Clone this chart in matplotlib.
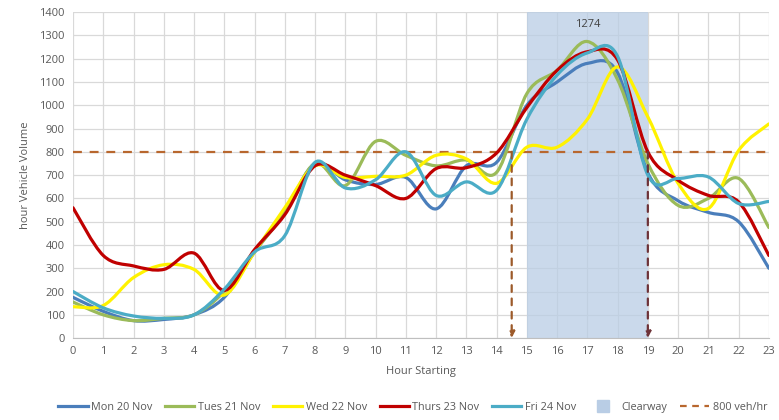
import numpy as np
import matplotlib
matplotlib.use("Agg")
import matplotlib.pyplot as plt
from matplotlib.path import Path
from matplotlib.patches import PathPatch
from matplotlib.lines import Line2D

hours = np.arange(0, 24)
mon = [175, 115, 75, 80, 100, 175, 370, 540, 750, 680, 660, 690, 555, 740, 755,
       1000, 1100, 1180, 1140, 710, 590, 540, 500, 300]
tue = [155, 100, 75, 85, 100, 200, 370, 540, 750, 655, 845, 785, 740, 765, 712,
       1050, 1150, 1274, 1110, 750, 570, 600, 686, 475]
wed = [135, 140, 260, 315, 295, 185, 370, 560, 740, 690, 695, 700, 785, 770, 665,
       820, 820, 940, 1165, 950, 665, 557, 806, 920]
thu = [560, 355, 310, 295, 365, 205, 380, 530, 740, 700, 655, 600, 728, 732, 795,
       990, 1150, 1230, 1195, 800, 678, 613, 585, 355]
fri = [200, 130, 95, 85, 100, 210, 370, 440, 755, 645, 680, 800, 613, 671, 635,
       940, 1130, 1225, 1210, 700, 686, 692, 578, 587]

series = [("Mon 20 Nov", mon, "#4A7EBB"),
          ("Tues 21 Nov", tue, "#9BBB59"),
          ("Wed 22 Nov", wed, "#FFF200"),
          ("Thurs 23 Nov", thu, "#C00000"),
          ("Fri 24 Nov", fri, "#4BACC6")]

threshold = 800
clearway = (15, 19)
peak_label = "1274"
arrow_x = [14.5, 19]


def smooth_path(x, y):
    # Excel-like smoothed line: cubic bezier through each point
    x = np.asarray(x, float)
    y = np.asarray(y, float)
    pts = np.column_stack([x, y])
    n = len(pts)
    verts = [pts[0]]
    codes = [Path.MOVETO]
    for i in range(n - 1):
        p0 = pts[max(i - 1, 0)]
        p1 = pts[i]
        p2 = pts[i + 1]
        p3 = pts[min(i + 2, n - 1)]
        c1 = p1 + (p2 - p0) / 6.0
        c2 = p2 - (p3 - p1) / 6.0
        verts += [c1, c2, p2]
        codes += [Path.CURVE4] * 3
    return Path(verts, codes)


plt.rcParams['font.family'] = ['Open Sans', 'DejaVu Sans']
txt = '#595959'

fig = plt.figure(figsize=(7.79, 4.2), dpi=100)
ax = fig.add_axes([0.0937, 0.195, 0.8933, 0.776])

ax.axvspan(clearway[0], clearway[1], color='#B9CDE5', alpha=0.75, lw=0, zorder=1)
ax.grid(True, color='#D9D9D9', lw=0.9, zorder=0.5)
ax.set_axisbelow(True)

ax.axhline(threshold, color='#B8672E', lw=1.6, ls=(0, (4, 3.5)), zorder=2)

handles = []
for name, vals, col in series:
    ax.add_patch(PathPatch(smooth_path(hours, vals), fill=False, edgecolor=col,
                           lw=2.3, zorder=3, capstyle='round'))
    handles.append(Line2D([], [], color=col, lw=2.3, label=name))

arrow_cols = ['#9C5A2A', '#6E3338']
for xa, ca in zip(arrow_x, arrow_cols):
    ax.annotate('', xy=(xa, 0), xytext=(xa, threshold),
                arrowprops=dict(arrowstyle='-|>', color=ca, lw=1.6,
                                linestyle=(0, (3, 3)), mutation_scale=9,
                                shrinkA=0, shrinkB=0), zorder=4)

ax.text(17, 1348, peak_label, ha='center', va='center', fontsize=8, color='#404040')

ax.set_xlim(0, 23)
ax.set_ylim(0, 1400)
ax.set_xticks(hours)
ax.set_yticks(np.arange(0, 1401, 100))
ax.tick_params(length=0, labelsize=8, colors=txt, pad=6)
for s in ['top', 'right', 'left']:
    ax.spines[s].set_visible(False)
ax.spines['bottom'].set_color('#BFBFBF')
ax.set_xlabel('Hour Starting', fontsize=8, color=txt, labelpad=6)
ax.set_ylabel('hour Vehicle Volume', fontsize=8, color=txt, labelpad=6)

handles.append(Line2D([], [], marker='s', ls='none', markersize=9,
                      color='#B9CDE5', label='Clearway'))
handles.append(Line2D([], [], color='#B8672E', lw=1.6, ls=(0, (3, 2.5)),
                      label='800 veh/hr'))
fig.legend(handles=handles, loc='center', bbox_to_anchor=(0.53, 0.03), ncol=7,
           frameon=False, fontsize=7.8, labelcolor=txt, handlelength=2.7,
           columnspacing=1.2, handletextpad=0.3)

fig.savefig('out.png', dpi=100)
